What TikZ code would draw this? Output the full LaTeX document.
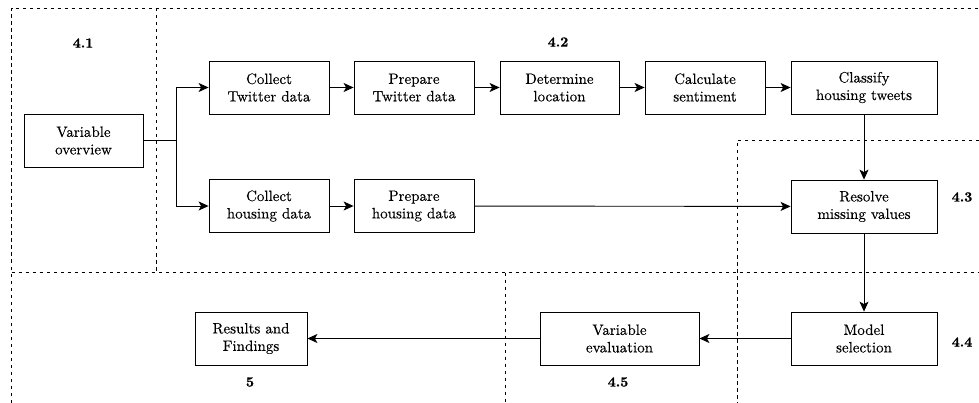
\documentclass[tikz,border=0pt]{standalone}
\usepackage{fontspec}
\setmainfont{lmroman10-regular.otf}[
  BoldFont=lmroman10-bold.otf,
  UprightFeatures={FakeBold=0.2},
  BoldFeatures={FakeBold=0.9}]
\usetikzlibrary{arrows.meta}

\tikzset{
  stepbox/.style={draw, line width=0.8pt, minimum height=53pt, align=center,
    inner sep=1pt, font=\fontsize{15}{17.5}\selectfont},
  flow/.style={-{Stealth[length=10pt,width=9pt,inset=2.5pt]}, line width=0.9pt},
  plain/.style={line width=0.9pt},
  zone/.style={dash pattern=on 3.5pt off 3.5pt, line width=0.7pt},
  tag/.style={font=\bfseries\fontsize{14}{15}\selectfont}
}

\begin{document}
\begin{tikzpicture}[x=1pt,y=-1pt]
\useasboundingbox (0,0) rectangle (979,403);

% section frames
\draw[zone] (11.5,403) -- (11.5,8) -- (979,8);
\draw[zone] (156.5,8) -- (156.5,272.5);
\draw[zone] (11.5,272.5) -- (979,272.5);
\draw[zone] (979,140) -- (737,140) -- (737,403);
\draw[zone] (505,272.5) -- (505,403);

% section numbers
\node[tag] (t41) at (83,43) {4.1};
\node[tag] (t42) at (558,42) {4.2};
\node[tag] (t43) at (962,197) {4.3};
\node[tag] (t44) at (962,342) {4.4};
\node[tag] (t45) at (618,382) {4.5};
\node[tag] (t5)  at (250,382) {5};

% process steps
\node[stepbox, minimum width=119pt] (vo)  at (83.5,140.5) {Variable\\overview};
\node[stepbox, minimum width=120pt] (ctw) at (269,87.5)   {Collect\\Twitter data};
\node[stepbox, minimum width=120pt] (ptw) at (414,87.5)   {Prepare\\Twitter data};
\node[stepbox, minimum width=119pt] (det) at (559.5,87.5) {Determine\\location};
\node[stepbox, minimum width=120pt] (sen) at (705,87.5)   {Calculate\\sentiment};
\node[stepbox, minimum width=146pt] (cls) at (864,87.5)   {Classify\\housing tweets};
\node[stepbox, minimum width=120pt] (chd) at (269,206)    {Collect\\housing data};
\node[stepbox, minimum width=120pt] (phd) at (414,206)    {Prepare\\housing data};
\node[stepbox, minimum width=146pt] (res) at (864,206.5)  {Resolve\\missing values};
\node[stepbox, minimum width=146pt] (mod) at (864,338.5)  {Model\\selection};
\node[stepbox, minimum width=159pt] (eva) at (619.5,338.5) {Variable\\evaluation};
\node[stepbox, minimum width=112pt] (rf)  at (251,338.5)  {Results and\\Findings};

% connectors
\coordinate (fork) at (176,140.5);
\draw[plain] (vo.east) -- (fork);
\draw[flow] (fork) |- (ctw.west);
\draw[flow] (fork) |- (chd.west);
\draw[flow] (ctw) -- (ptw);
\draw[flow] (ptw) -- (det);
\draw[flow] (det) -- (sen);
\draw[flow] (sen) -- (cls);
\draw[flow] (chd) -- (phd);
\draw[flow] (phd) -- (res);
\draw[flow] (cls) -- (res);
\draw[flow] (res) -- (mod);
\draw[flow] (mod) -- (eva);
\draw[flow] (eva) -- (rf);
\end{tikzpicture}
\end{document}
